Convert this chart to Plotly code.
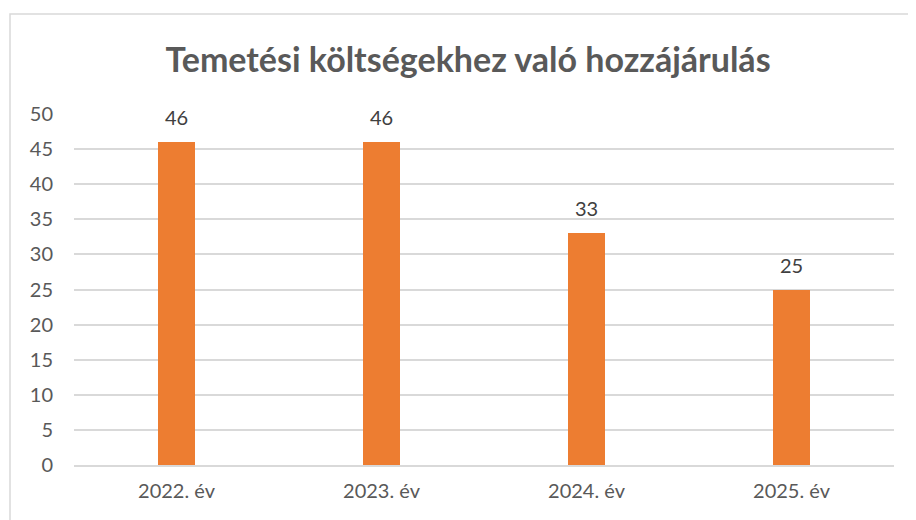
import plotly.graph_objects as go

categories = ["2022. év", "2023. év", "2024. év", "2025. év"]
values = [46, 46, 33, 25]
y_ticks = [0, 5, 10, 15, 20, 25, 30, 35, 40, 45, 50]

# page body has an 8px margin; figure coordinates are offset by it
OFF = 8
W, H = 916 - OFF, 520 - OFF
ml, mr, mt, mb = 74 - OFF, 22, 114 - OFF, 520 - 465
pw, ph = W - ml - mr, H - mt - mb
FONT = "Lato, sans-serif"

def px_to_paper_x(x):
    return (x - OFF - ml) / pw

def px_to_paper_y(y):
    return (H - mb - (y - OFF)) / ph

fig = go.Figure()
fig.add_trace(go.Bar(
    x=categories, y=values,
    marker=dict(color="#ED7D31", line=dict(width=0)),
    width=0.18,
))

annotations = [
    dict(x=c, y=v, xref="x", yref="y", text=str(v), showarrow=False,
         yanchor="middle", yshift=25,
         font=dict(family=FONT, size=20, color="#404040"))
    for c, v in zip(categories, values)
]

fig.update_layout(
    width=W, height=H,
    margin=dict(l=ml, r=mr, t=mt, b=mb),
    paper_bgcolor="white", plot_bgcolor="white",
    title=dict(text="<b>Temetési költségekhez való hozzájárulás</b>",
               x=px_to_paper_x(468), xref="paper", xanchor="center",
               y=1 - (60 - OFF) / H, yanchor="middle",
               font=dict(family=FONT, size=34, color="#595959")),
    showlegend=False,
    bargap=0,
    annotations=annotations,
    xaxis=dict(showgrid=False, showline=True, linecolor="#D9D9D9", linewidth=1.5,
               ticks="", tickfont=dict(family=FONT, size=20, color="#595959"),
               ticklabelstandoff=7),
    yaxis=dict(range=[0, 50], tickvals=y_ticks, showgrid=True, gridcolor="#D9D9D9",
               gridwidth=1.5, zeroline=False, showline=False, ticks="",
               tickfont=dict(family=FONT, size=20, color="#595959"),
               ticklabelstandoff=20),
    shapes=[dict(type="rect", xref="paper", yref="paper",
                 x0=px_to_paper_x(10), x1=px_to_paper_x(930),
                 y0=px_to_paper_y(540), y1=px_to_paper_y(14),
                 line=dict(color="#D9D9D9", width=1.5), fillcolor="rgba(0,0,0,0)", layer="below")],
)

fig.write_html("out.html")
